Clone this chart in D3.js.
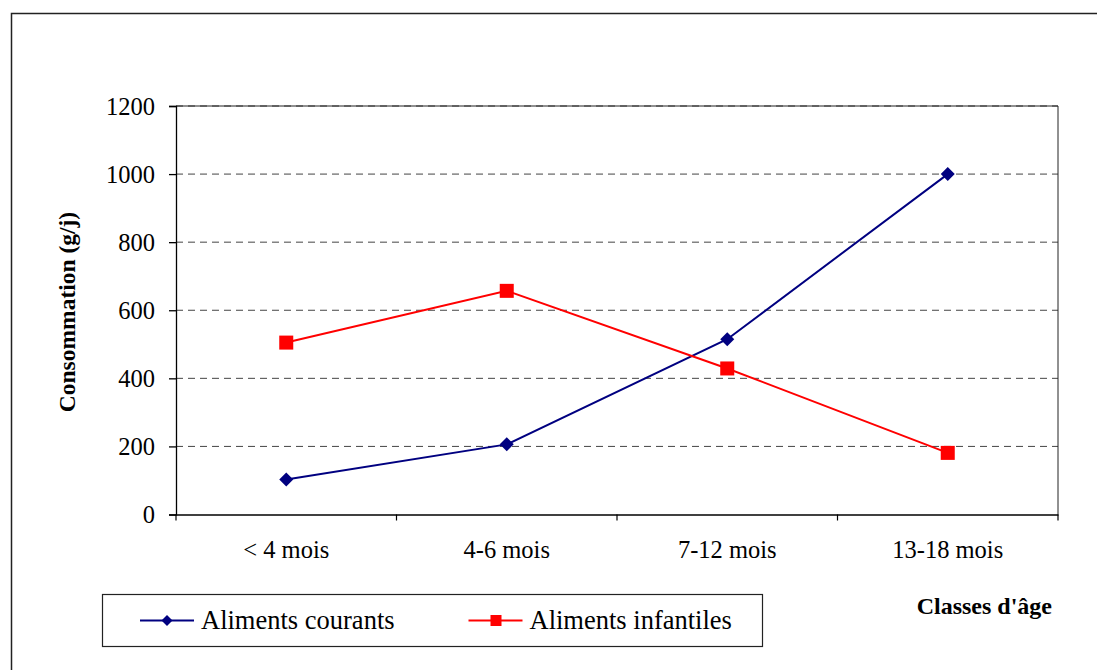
<!DOCTYPE html>
<html>
<head>
<meta charset="utf-8">
<script src="https://cdn.jsdelivr.net/npm/d3@7"></script>
<style>
  body { margin: 0; background: #fff; }
  svg text { font-family: "Liberation Serif", "Times New Roman", serif; fill: #000; }
</style>
</head>
<body>
<div id="chart"></div>
<script>
// data
var categories = ["< 4 mois", "4-6 mois", "7-12 mois", "13-18 mois"];
var courants = [103, 206, 515, 1000];
var infantiles = [505, 657, 429, 181];
var yTicks = [0, 200, 400, 600, 800, 1000, 1200];
var seriesNames = ["Aliments courants", "Aliments infantiles"];

var W = 1097, H = 670;
var plot = {left: 176, right: 1058, top: 106, bottom: 514.5};

var svg = d3.select("#chart").append("svg")
  .attr("width", W).attr("height", H);

// outer frame (runs off the right / bottom edge)
svg.append("rect")
  .attr("x", 11.5).attr("y", 13.5)
  .attr("width", 1200).attr("height", 800)
  .attr("fill", "none").attr("stroke", "#222").attr("stroke-width", 1.5);

var x = d3.scaleBand().domain(categories).range([plot.left, plot.right]);
var y = d3.scaleLinear().domain([0, 1200]).range([plot.bottom, plot.top]);

// gridlines
svg.append("g")
  .selectAll("line")
  .data(yTicks.filter(d => d > 0))
  .enter().append("line")
  .attr("x1", plot.left).attr("x2", plot.right)
  .attr("y1", d => y(d)).attr("y2", d => y(d))
  .attr("stroke", "#444").attr("stroke-width", 1)
  .attr("stroke-dasharray", "7,5");

// plot border right + top
svg.append("path")
  .attr("d", "M" + plot.left + "," + y(1200) + "H" + plot.right + "V" + plot.bottom)
  .attr("fill", "none").attr("stroke", "#222").attr("stroke-width", 1);

// y axis
var yAxis = svg.append("g")
  .attr("transform", "translate(" + plot.left + ",0)")
  .call(d3.axisLeft(y).tickValues(yTicks).tickFormat(d3.format("d")).tickSize(7).tickPadding(14));
yAxis.selectAll("text").style("font-size", "24.5px").style("font-family", "Liberation Serif").attr("dy", "0.34em");
yAxis.selectAll("line, path").attr("stroke", "#000").attr("stroke-width", 1.3);

// x axis: ticks at band edges
var xAxis = svg.append("g")
  .attr("transform", "translate(0," + plot.bottom + ")")
  .call(d3.axisBottom(x).tickSize(0).tickPadding(26));
xAxis.select(".domain").attr("stroke", "#000").attr("stroke-width", 1.5);
xAxis.selectAll("text").style("font-size", "24.5px").style("font-family", "Liberation Serif");
var edges = categories.map(c => x(c)).concat([plot.right]);
svg.append("g").selectAll("line").data(edges).enter().append("line")
  .attr("x1", d => d).attr("x2", d => d)
  .attr("y1", plot.bottom).attr("y2", plot.bottom + 6)
  .attr("stroke", "#000").attr("stroke-width", 1.2);

var cx = d => x(d) + x.bandwidth() / 2;
var line = d3.line().x(d => cx(d.c)).y(d => y(d.v));

var dataC = categories.map((c, i) => ({c: c, v: courants[i]}));
var dataI = categories.map((c, i) => ({c: c, v: infantiles[i]}));

svg.append("path").datum(dataC).attr("d", line)
  .attr("fill", "none").attr("stroke", "#000080").attr("stroke-width", 2);
svg.append("path").datum(dataI).attr("d", line)
  .attr("fill", "none").attr("stroke", "#ff0000").attr("stroke-width", 2);

var diamond = function(s) { return "M0," + (-s) + "L" + s + ",0L0," + s + "L" + (-s) + ",0Z"; };

svg.append("g").selectAll("path").data(dataC).enter().append("path")
  .attr("transform", d => "translate(" + cx(d.c) + "," + y(d.v) + ")")
  .attr("d", diamond(7)).attr("fill", "#000080");
svg.append("g").selectAll("rect").data(dataI).enter().append("rect")
  .attr("x", d => cx(d.c) - 7).attr("y", d => y(d.v) - 7)
  .attr("width", 14).attr("height", 14).attr("fill", "#ff0000");

// axis titles
svg.append("text")
  .attr("transform", "translate(75,312) rotate(-90)")
  .attr("text-anchor", "middle")
  .style("font-size", "23.5px").style("font-weight", "bold")
  .text("Consommation (g/j)");
svg.append("text")
  .attr("x", 1052).attr("y", 614)
  .attr("text-anchor", "end")
  .style("font-size", "24px").style("font-weight", "bold")
  .text("Classes d'âge");

// legend
var legend = svg.append("g");
legend.append("rect")
  .attr("x", 102.5).attr("y", 594.5).attr("width", 660).attr("height", 52)
  .attr("fill", "#fff").attr("stroke", "#222").attr("stroke-width", 1.2);
var legX = [140, 468.5];
var legColors = ["#000080", "#ff0000"];
seriesNames.forEach(function(name, i) {
  var g = legend.append("g").attr("transform", "translate(" + legX[i] + ",620.5)");
  g.append("line").attr("x1", 0).attr("x2", 54).attr("y1", 0).attr("y2", 0)
    .attr("stroke", legColors[i]).attr("stroke-width", 2);
  if (i === 0) {
    g.append("path").attr("transform", "translate(27,0)").attr("d", diamond(5.5)).attr("fill", legColors[i]);
  } else {
    g.append("rect").attr("x", 22).attr("y", -5.5).attr("width", 11).attr("height", 11).attr("fill", legColors[i]);
  }
  g.append("text").attr("x", 61).attr("y", 8.5)
    .style("font-size", "26.5px")
    .text(name);
});
</script>
</body>
</html>
